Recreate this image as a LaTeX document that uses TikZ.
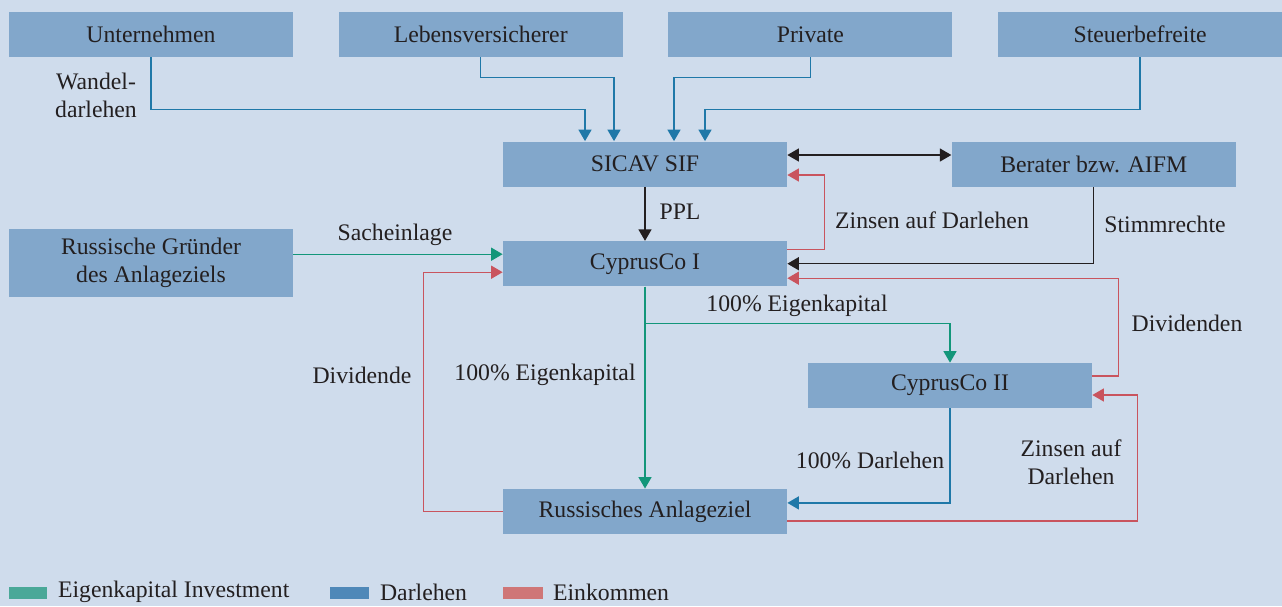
\documentclass[tikz,border=0pt]{standalone}
\usepackage{fontspec}
\setmainfont{Liberation Serif}
\usetikzlibrary{positioning,arrows.meta}
\definecolor{bgblue}{HTML}{CFDCEC}
\definecolor{boxblue}{HTML}{82A7CB}
\definecolor{txt}{HTML}{231F20}
\definecolor{eqgreen}{HTML}{13967A}
\definecolor{loanblue}{HTML}{1F78A8}
\definecolor{incred}{HTML}{C9545E}
\definecolor{leggreen}{HTML}{4AA898}
\definecolor{legblue}{HTML}{4F88B8}
\definecolor{legred}{HTML}{CF7677}
\begin{document}
\begin{tikzpicture}[
  font=\fontsize{13.5}{16}\selectfont, text=txt,
  entity/.style={fill=boxblue, minimum width=5.68cm, minimum height=0.9cm, inner sep=0pt, align=center},
  flow/.style={line width=0.8pt, -{Triangle[length=2.3mm,width=2.6mm]}},
  equity/.style={flow, draw=eqgreen},
  loan/.style={flow, draw=loanblue},
  income/.style={flow, draw=incred},
  control/.style={flow, draw=txt},
  tag/.style={align=center, inner sep=1pt}
]
 \fill[bgblue] (0,0) rectangle (25.64,-12.12);
 \useasboundingbox (0,0) rectangle (25.64,-12.12);

 % investors
 \node[entity] (unt) at (3.02,-0.69) {Unternehmen};
 \node[entity] (leb) [right=0.9cm of unt] {Lebensversicherer};
 \node[entity] (pri) [right=0.9cm of leb] {Private};
 \node[entity] (steu) [right=0.9cm of pri] {Steuerbefreite};

 % structure
 \node[entity] (sicav) at (12.9,-3.28) {SICAV SIF};
 \node[entity] (ber) [right=3.28cm of sicav] {Berater bzw. AIFM};
 \node[entity] (cy1) [below=1.08cm of sicav] {CyprusCo I};
 \node[entity, minimum height=1.36cm] (gr) at (3.02,-5.26) {Russische Gründer\\des Anlageziels};
 \node[entity] (cy2) at (19,-7.71) {CyprusCo II};
 \node[entity] (anl) [below=4.04cm of cy1] {Russisches Anlageziel};

 % connectors
 \draw[loan] (unt.south) -- ++(0,-1.04) -| ([xshift=-1.2cm]sicav.north);
 \draw[loan] (leb.south) -- ++(0,-0.4) -| ([xshift=-0.62cm]sicav.north);
 \draw[loan] (pri.south) -- ++(0,-0.4) -| ([xshift=0.58cm]sicav.north);
 \draw[loan] (steu.south) -- ++(0,-1.04) -| ([xshift=1.2cm]sicav.north);
 \draw[control, {Triangle[length=2.3mm,width=2.6mm]}-{Triangle[length=2.3mm,width=2.6mm]}] ([yshift=0.18cm]sicav.east) -- ([yshift=0.18cm]sicav.east -| ber.west);
 \draw[control] (sicav) -- (cy1);
 \draw[income] ([yshift=0.29cm]cy1.east) -- ++(0.74,0) |- ([yshift=-0.22cm]sicav.east);
 \draw[control] (ber.south) |- (cy1.east);
 \draw[income] ([yshift=0.19cm]cy2.east) -- ++(0.52,0) |- ([yshift=-0.29cm]cy1.east);
 \draw[equity] ([yshift=0.19cm]cy1.west -| gr.east) -- ([yshift=0.19cm]cy1.west);
 \draw[income] (anl.west) -- ++(-1.58,0) |- ([yshift=-0.17cm]cy1.west);
 \draw[equity] (cy1) -- (anl);
 \draw[equity] (cy1.south) -- ++(0,-0.74) -| (cy2.north);
 \draw[loan] (cy2.south) |- ([yshift=0.17cm]anl.east);
 \draw[income] ([yshift=-0.19cm]anl.east) -- ++(7,0) |- ([yshift=-0.19cm]cy2.east);

 % labels
 \node[tag] (l-wandel) at (1.92,-1.9) {Wandel-\\darlehen};
 \node[tag] (l-ppl) at (13.6,-4.24) {PPL};
 \node[tag] (l-zins1) at (18.64,-4.4) {Zinsen auf Darlehen};
 \node[tag] (l-stimm) at (23.3,-4.48) {Stimmrechte};
 \node[tag] (l-sach) at (7.9,-4.7) {Sacheinlage};
 \node[tag] (l-ek1) at (15.94,-6.12) {100\% Eigenkapital};
 \node[tag] (l-divn) at (23.74,-6.46) {Dividenden};
 \node[tag] (l-div) at (7.24,-7.5) {Dividende};
 \node[tag] (l-ek2) at (10.9,-7.5) {100\% Eigenkapital};
 \node[tag] (l-darl) at (17.4,-9.2) {100\% Darlehen};
 \node[tag] (l-zins2) at (21.42,-9.24) {Zinsen auf\\Darlehen};

 % legend
 \fill[leggreen] (0.18,-11.74) rectangle (0.94,-11.98);
 \node[tag, anchor=west] (k-eq) at (1.12,-11.84) {Eigenkapital Investment};
 \fill[legblue] (6.6,-11.74) rectangle (7.38,-11.98);
 \node[tag, anchor=west] (k-loan) at (7.56,-11.84) {Darlehen};
 \fill[legred] (10.06,-11.74) rectangle (10.86,-11.98);
 \node[tag, anchor=west] (k-inc) at (11.02,-11.84) {Einkommen};
\end{tikzpicture}
\end{document}
